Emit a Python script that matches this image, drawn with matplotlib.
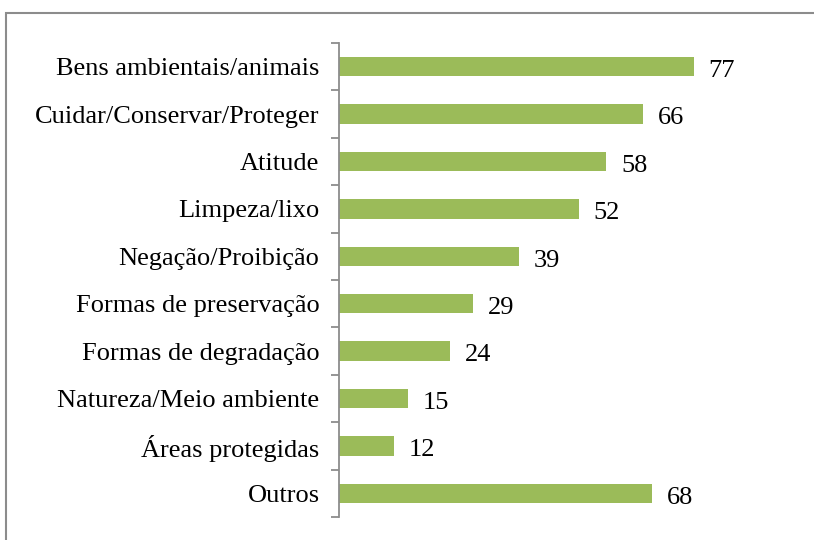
import matplotlib.pyplot as plt
from matplotlib.patches import Rectangle

categorias = ["Bens ambientais/animais", "Cuidar/Conservar/Proteger", "Atitude",
              "Limpeza/lixo", "Negação/Proibição", "Formas de preservação",
              "Formas de degradação", "Natureza/Meio ambiente", "Áreas protegidas",
              "Outros"]
valores = [77, 66, 58, 52, 39, 29, 24, 15, 12, 68]

plt.rcParams['font.family'] = ['Liberation Serif', 'DejaVu Serif']

fig = plt.figure(figsize=(8.14, 5.4), dpi=100)
# moldura cinza em volta do grafico
fig.patches.append(Rectangle((6 / 814, -0.1), 1.2, 1 - 13 / 540 + 0.1,
                             transform=fig.transFigure, fill=False,
                             edgecolor="#8c8c8c", linewidth=1.5))
ax = fig.add_axes([339 / 814, 23 / 540, 461 / 814, 474 / 540])

pos = list(range(len(categorias)))
ax.barh(pos, valores, height=0.41, color="#9bbb59")
for p, v in zip(pos, valores):
    ax.text(v + 3.2, p + 0.04, str(v), va="center_baseline", ha="left", fontsize=19)

ax.set_xlim(0, 100)
ax.set_ylim(len(categorias) - 0.5, -0.5)
ax.set_yticks(pos)
ax.set_yticklabels(categorias, fontsize=19, va="center_baseline")
ax.set_yticks([i - 0.5 for i in range(len(categorias) + 1)], minor=True)
ax.tick_params(axis="y", which="major", length=0, pad=14)
ax.tick_params(axis="y", which="minor", length=6, color="#8c8c8c", width=1.3)
ax.set_xticks([])
for s in ["top", "right", "bottom"]:
    ax.spines[s].set_visible(False)
ax.spines["left"].set_color("#8c8c8c")
ax.spines["left"].set_linewidth(1.3)

fig.savefig("out.png", dpi=100)
